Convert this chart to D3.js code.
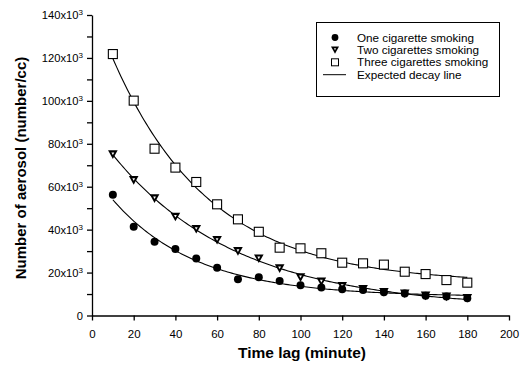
<!DOCTYPE html>
<html><head><meta charset="utf-8">
<script src="https://cdn.jsdelivr.net/npm/d3@7"></script>
<style>body{margin:0;background:#fff}svg{display:block}</style>
</head><body>
<script>
const timeLag = [10,20,30,40,50,60,70,80,90,100,110,120,130,140,150,160,170,180];
const oneCig = [56.2,41.4,34.4,31.0,26.5,22.3,16.9,17.8,16.1,14.1,13.0,12.2,11.9,10.8,10.2,9.2,8.8,8.0];
const twoCig = [75.1,63.1,54.6,46.0,40.3,35.2,30.0,26.6,22.0,17.8,15.8,13.7,12.3,11.0,10.3,9.3,8.8,8.2];
const threeCig = [121.8,100.1,77.7,68.9,62.2,51.8,44.8,39.0,31.6,31.3,29.0,24.6,24.3,23.7,20.4,19.3,16.5,15.3];
const yTicks = [0,20,40,60,80,100,120,140];
const xTicks = [0,20,40,60,80,100,120,140,160,180,200];
const legendLabels = ["One cigarette smoking","Two cigarettes smoking","Three cigarettes smoking","Expected decay line"];

const W=522,H=371;
const svg=d3.select("body").append("svg").attr("width",W).attr("height",H);
const x=d3.scaleLinear().domain([0,200]).range([92,509]);
const y=d3.scaleLinear().domain([0,140]).range([315.5,15]);
const font="Liberation Sans, Arial, sans-serif";

// axes
const gx=svg.append("g").attr("transform",`translate(0,${y(0)})`)
  .call(d3.axisBottom(x).tickValues(xTicks).tickSize(5).tickSizeOuter(0).tickPadding(9));
gx.selectAll("text").attr("font-family",font).attr("font-size",11.5).attr("fill","#000");
gx.selectAll("line,path").attr("stroke","#000").attr("stroke-width",1.3);

const gy=svg.append("g").attr("transform",`translate(${x(0)},0)`)
  .call(d3.axisLeft(y).tickValues(d3.range(0,141,10)).tickSize(5).tickSizeOuter(0).tickPadding(4).tickFormat(""));
gy.selectAll("line,path").attr("stroke","#000").attr("stroke-width",1.3);
const ylab=svg.append("g");
yTicks.forEach(v=>{
  const t=ylab.append("text").attr("x",x(0)-9).attr("y",y(v)+4).attr("text-anchor","end")
    .attr("font-family",font).attr("font-size",11.2).attr("fill","#000");
  if(v===0){t.text("0");}
  else{t.append("tspan").text(v+"x10");t.append("tspan").attr("dy",-4).attr("font-size",8).text("3");}
});

// fit y = a*exp(-b t)+c
function fit(ts,ys){
  let best=null;
  for(let b=0.002;b<=0.1;b+=0.0002){
    const e=ts.map(t=>Math.exp(-b*t));
    const n=ts.length, se=d3.sum(e), sy=d3.sum(ys), see=d3.sum(e,v=>v*v), sey=d3.sum(e.map((v,i)=>v*ys[i]));
    const den=n*see-se*se; const a=(n*sey-se*sy)/den; const c=(sy-a*se)/n;
    const err=d3.sum(ts.map((t,i)=>(a*e[i]+c-ys[i])**2));
    if(!best||err<best.err)best={a,b,c,err};
  }
  return best;
}
const series=[oneCig,twoCig,threeCig];
const line=d3.line().x(d=>x(d[0])).y(d=>y(d[1]));
series.forEach(s=>{
  const f=fit(timeLag,s);
  const pts=d3.range(timeLag[0],timeLag[timeLag.length-1]+0.5,1).map(t=>[t,f.a*Math.exp(-f.b*t)+f.c]);
  svg.append("path").attr("d",line(pts)).attr("fill","none").attr("stroke","#000").attr("stroke-width",1.1);
});

// markers
function circle(g,cx,cy){g.append("circle").attr("cx",cx).attr("cy",cy).attr("r",4).attr("fill","#000");}
function tri(g,cx,cy){
  g.append("path").attr("d",`M${cx-4.8},${cy-4}L${cx+4.8},${cy-4}L${cx},${cy+4.6}Z`).attr("fill","#000");
  g.append("path").attr("d",`M${cx-1.4},${cy-1.8}L${cx+1.4},${cy-1.8}L${cx},${cy+0.8}Z`).attr("fill","#fff");
}
function sq(g,cx,cy){g.append("rect").attr("x",cx-4.5).attr("y",cy-4.5).attr("width",9).attr("height",9)
  .attr("fill","#fff").attr("stroke","#000").attr("stroke-width",1.1);}
const mk=[circle,tri,sq];
const gm=svg.append("g");
[2,1,0].forEach(k=>{timeLag.forEach((t,i)=>mk[k](gm,x(t),y(series[k][i])));});

// legend
const lg=svg.append("g");
lg.append("rect").attr("x",316.5).attr("y",22.5).attr("width",183).attr("height",74)
  .attr("fill","#fff").attr("stroke","#000").attr("stroke-width",1);
const ly0=37.5, ldy=12.4;
legendLabels.forEach((l,i)=>{
  const cy=ly0+i*ldy;
  if(i===0)lg.append("circle").attr("cx",335).attr("cy",cy).attr("r",3.4).attr("fill","#000");
  if(i===1){
    lg.append("path").attr("d",`M${331},${cy-3.3}L${339},${cy-3.3}L${335},${cy+3.8}Z`).attr("fill","#000");
    lg.append("path").attr("d",`M${334},${cy-1.6}L${336},${cy-1.6}L${335},${cy+0.4}Z`).attr("fill","#fff");
  }
  if(i===2)lg.append("rect").attr("x",331.5).attr("y",cy-3.5).attr("width",7).attr("height",7).attr("fill","#fff").attr("stroke","#000").attr("stroke-width",1);
  if(i===3)lg.append("line").attr("x1",323).attr("x2",346).attr("y1",cy).attr("y2",cy).attr("stroke","#000").attr("stroke-width",1);
  lg.append("text").attr("x",357).attr("y",cy+4).attr("font-family",font).attr("font-size",11.7).attr("fill","#000").text(l);
});

// titles
svg.append("text").attr("x",302).attr("y",358).attr("text-anchor","middle").attr("font-family",font)
  .attr("font-weight","bold").attr("font-size",15.5).attr("fill","#000").text("Time lag (minute)");
svg.append("text").attr("transform","translate(26,168) rotate(-90)").attr("text-anchor","middle").attr("font-family",font)
  .attr("font-weight","bold").attr("font-size",15).attr("fill","#000").text("Number of aerosol (number/cc)");
</script>
</body></html>
